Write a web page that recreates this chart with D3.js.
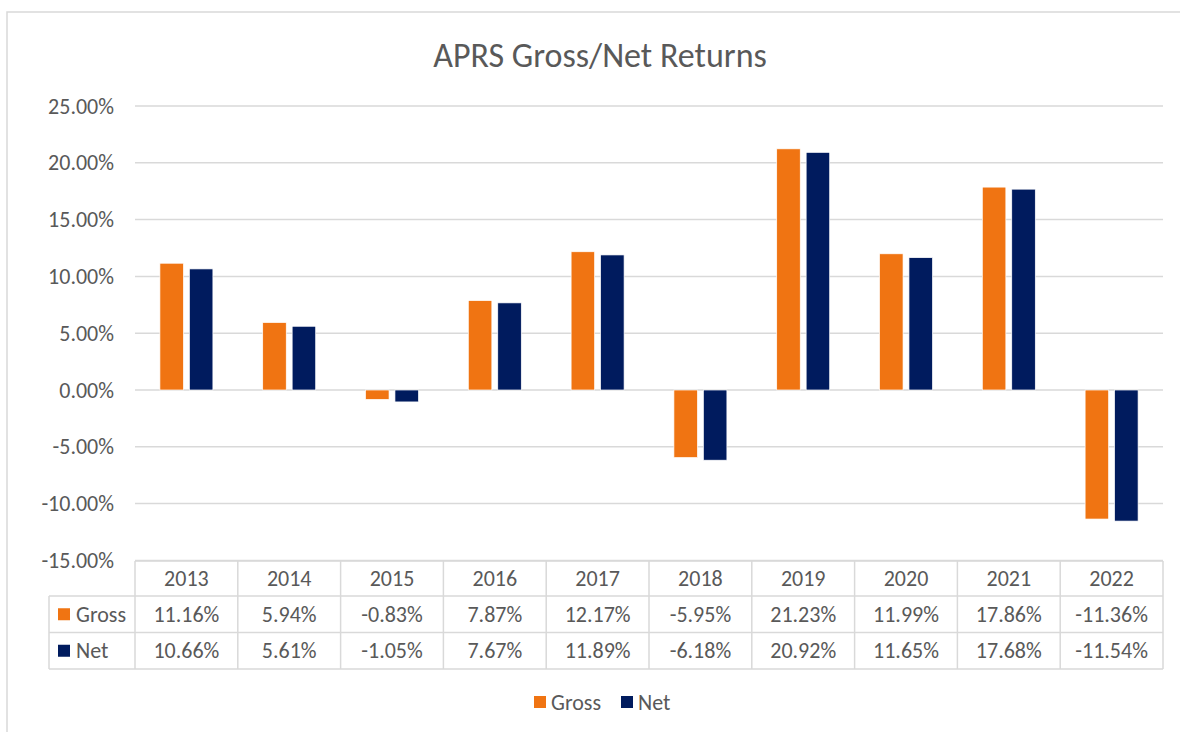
<!DOCTYPE html>
<html>
<head>
<meta charset="utf-8">
<script src="https://cdn.jsdelivr.net/npm/d3@7"></script>
<style>
  html, body { margin: 0; padding: 0; background: #fff; }
  svg { display: block; }
  text { font-family: Carlito, Calibri, Lato, "Liberation Sans", sans-serif; fill: #595959; }
</style>
</head>
<body>
<svg id="chart" width="1180" height="732"></svg>
<script>
const title = "APRS Gross/Net Returns";
const years = ["2013","2014","2015","2016","2017","2018","2019","2020","2021","2022"];
const seriesNames = ["Gross","Net"];
const gross = [11.16, 5.94, -0.83, 7.87, 12.17, -5.95, 21.23, 11.99, 17.86, -11.36];
const net   = [10.66, 5.61, -1.05, 7.67, 11.89, -6.18, 20.92, 11.65, 17.68, -11.54];
const yTicks = [25, 20, 15, 10, 5, 0, -5, -10, -15];
const colors = ["#F07412", "#001B5E"];

const svg = d3.select("#chart");
const plotL = 135, plotR = 1163, plotT = 106, plotB = 560.4;
const fs = "22px";

// outer border
svg.append("rect").attr("x", 7).attr("y", 12).attr("width", 1200).attr("height", 800)
  .attr("fill", "none").attr("stroke", "#d9d9d9").attr("stroke-width", 1.5);

svg.append("text").attr("x", 600).attr("y", 67).attr("text-anchor", "middle")
  .style("font-size", "34px").text(title);

const y = d3.scaleLinear().domain([-15, 25]).range([plotB, plotT]);
const x = d3.scaleBand().domain(years).range([plotL, plotR]).padding(0);
const x1 = d3.scaleBand().domain(seriesNames).range([-26.5, 26.5]).paddingInner(0.2);

// gridlines
svg.append("g").selectAll("line").data(yTicks).join("line")
  .attr("x1", plotL).attr("x2", plotR)
  .attr("y1", d => y(d)).attr("y2", d => y(d))
  .attr("stroke", "#d9d9d9").attr("stroke-width", 1.5);

// y axis labels
const yAxis = d3.axisLeft(y).tickValues(yTicks).tickSize(0).tickPadding(0)
  .tickFormat(d => d.toFixed(2) + "%");
const ga = svg.append("g").attr("transform", `translate(${114},0)`).call(yAxis);
ga.select(".domain").remove();
ga.selectAll("text").style("font-size", fs).attr("fill", "#595959")
  .style("font-family", "Carlito, Calibri, Lato, 'Liberation Sans', sans-serif");

// bars
const data = [gross, net];
seriesNames.forEach((s, si) => {
  svg.append("g").selectAll("rect").data(years).join("rect")
    .attr("x", (d, i) => x(d) + x.bandwidth() / 2 + x1(s))
    .attr("width", x1.bandwidth())
    .attr("y", (d, i) => y(Math.max(0, data[si][i])))
    .attr("height", (d, i) => Math.abs(y(data[si][i]) - y(0)))
    .attr("fill", colors[si])
    .attr("stroke", "#fff").attr("stroke-width", 0.7);
});

// data table
const rowTops = [561, 596, 632.5, 669];
const baselines = [586, 622, 658];
const tbl = svg.append("g");
const lineC = "#d9d9d9", lineW = 1.5;
tbl.append("line").attr("x1", plotL).attr("x2", plotR).attr("y1", rowTops[0]).attr("y2", rowTops[0]).attr("stroke", lineC).attr("stroke-width", lineW);
[1, 2, 3].forEach(r => tbl.append("line").attr("x1", 49).attr("x2", plotR)
  .attr("y1", rowTops[r]).attr("y2", rowTops[r]).attr("stroke", lineC).attr("stroke-width", lineW));
const vx = years.map(d => x(d)).concat([plotR]);
tbl.selectAll("line.v").data(vx).join("line").attr("class", "v")
  .attr("x1", d => d).attr("x2", d => d).attr("y1", rowTops[0]).attr("y2", rowTops[3])
  .attr("stroke", lineC).attr("stroke-width", lineW);
tbl.append("line").attr("x1", 49).attr("x2", 49).attr("y1", rowTops[1]).attr("y2", rowTops[3])
  .attr("stroke", lineC).attr("stroke-width", lineW);

tbl.selectAll("text.yr").data(years).join("text").attr("class", "yr")
  .attr("x", d => x(d) + x.bandwidth() / 2).attr("y", baselines[0])
  .attr("text-anchor", "middle").style("font-size", fs).text(d => d);

seriesNames.forEach((s, si) => {
  const cy = (rowTops[si + 1] + rowTops[si + 2]) / 2;
  tbl.append("rect").attr("x", 58).attr("y", cy - 6).attr("width", 12).attr("height", 12).attr("fill", colors[si]);
  tbl.append("text").attr("x", 76).attr("y", baselines[si + 1]).style("font-size", fs).text(s);
  tbl.selectAll("text.v" + si).data(years).join("text").attr("class", "v" + si)
    .attr("x", d => x(d) + x.bandwidth() / 2).attr("y", baselines[si + 1])
    .attr("text-anchor", "middle").style("font-size", fs)
    .text((d, i) => data[si][i].toFixed(2) + "%");
});

// legend
const legX = [534, 621];
seriesNames.forEach((s, si) => {
  svg.append("rect").attr("x", legX[si]).attr("y", 696).attr("width", 12).attr("height", 12).attr("fill", colors[si]);
  svg.append("text").attr("x", legX[si] + 17).attr("y", 710).style("font-size", fs).text(s);
});
</script>
</body>
</html>
